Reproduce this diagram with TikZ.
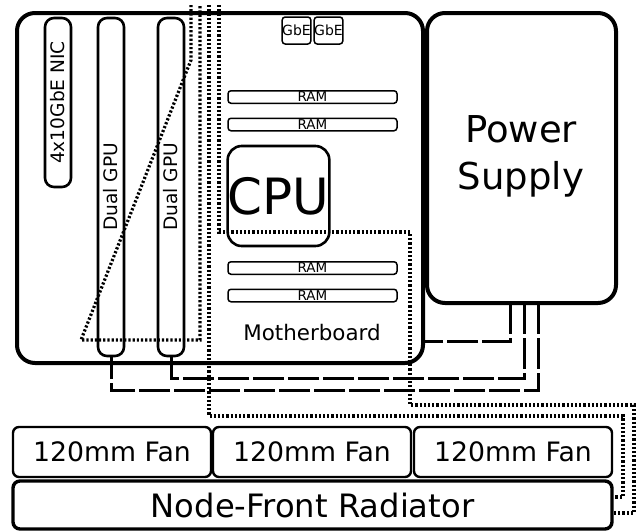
\documentclass[tikz,border=0pt]{standalone}
\usepackage{fontspec}
\setmainfont{DejaVu Sans}
\usetikzlibrary{shapes}

\tikzset{
  bigbox/.style={draw, line width=4pt, rounded corners=18pt, inner sep=0pt},
  cardbox/.style={draw, line width=2.6pt, rounded corners=9pt, inner sep=0pt},
  smallbox/.style={draw, line width=1.5pt, rounded corners=3pt, inner sep=0pt},
  fanbox/.style={draw, line width=2.4pt, rounded corners=6pt, inner sep=0pt, font=\fontsize{26.7}{27}\selectfont},
  powerline/.style={line width=3pt, dash pattern=on 31pt off 4pt},
  coolantline/.style={line width=3.2pt, dash pattern=on 2.2pt off 2pt}
}

\begin{document}
\begin{tikzpicture}[x=1pt, y=-1pt]
\useasboundingbox (0,0) rectangle (636,531);
% boards
\node [bigbox, minimum width=406pt, minimum height=350pt] (board) at (220,188) {};
\node [bigbox, minimum width=189pt, minimum height=290pt] (psu) at (521.5,158) {};
\node [font=\fontsize{37}{47}\selectfont, align=center] (psulabel) at (521,156) {Power\\Supply};
\node [font=\fontsize{21.4}{21.4}\selectfont] (boardlabel) at (312,333) {Motherboard};
% cards
\node [cardbox, minimum width=26pt, minimum height=169pt] (nic) at (58,102.5) {};
\node [rotate=90, font=\fontsize{18.6}{18.6}\selectfont] (niclabel) at (58,102.5) {4x10GbE NIC};
\node [cardbox, minimum width=26pt, minimum height=338pt] (gpua) at (111,187) {};
\node [rotate=90, font=\fontsize{18.6}{18.6}\selectfont] (gpualabel) at (111,187) {Dual GPU};
\node [cardbox, minimum width=26pt, minimum height=338pt] (gpub) at (171,187) {};
\node [rotate=90, font=\fontsize{18.6}{18.6}\selectfont] (gpublabel) at (171,187) {Dual GPU};
% ports and memory
\node [smallbox, minimum width=27pt, minimum height=27pt, font=\fontsize{14}{14}\selectfont] (gbea) at (296.5,30.5) {GbE};
\node [smallbox, minimum width=27pt, minimum height=27pt, font=\fontsize{14}{14}\selectfont] (gbeb) at (328.5,30.5) {GbE};
\node [smallbox, minimum width=169pt, minimum height=12.5pt, font=\fontsize{13.5}{13.5}\selectfont] (rama) at (312.5,97) {RAM};
\node [smallbox, minimum width=169pt, minimum height=12.5pt, font=\fontsize{13.5}{13.5}\selectfont] (ramb) at (312.5,124.5) {RAM};
\node [smallbox, minimum width=169pt, minimum height=12.5pt, font=\fontsize{13.5}{13.5}\selectfont] (ramc) at (312.5,268) {RAM};
\node [smallbox, minimum width=169pt, minimum height=12.5pt, font=\fontsize{13.5}{13.5}\selectfont] (ramd) at (312.5,295.5) {RAM};
\node [draw, line width=2.6pt, rounded corners=14pt, inner sep=0pt, minimum width=100pt, minimum height=100pt, font=\fontsize{50}{50}\selectfont] (cpu) at (278.5,196) {CPU};
% fans and radiator
\node [fanbox, minimum width=198pt, minimum height=50pt] (fana) at (112,452) {120mm Fan};
\node [fanbox, minimum width=198pt, minimum height=50pt] (fanb) at (312,452) {120mm Fan};
\node [fanbox, minimum width=198pt, minimum height=50pt] (fanc) at (513,452) {120mm Fan};
\node [draw, line width=3.4pt, rounded corners=7pt, inner sep=0pt, minimum width=599pt, minimum height=48pt, font=\fontsize{32.2}{32.2}\selectfont] (radiator) at (312.5,505) {Node-Front Radiator};
% power cables
\coordinate (psua) at (510,303);
\coordinate (psub) at (524,303);
\coordinate (psuc) at (538,303);
\draw [powerline] (psua) -- (510,341) -- (board.east |- 0,341);
\draw [powerline] (psub) -- (524,378) -- (171,378) -- (gpub.south);
\draw [powerline] (psuc) -- (538,390) -- (111,390) -- (gpua.south);
% coolant loop
\coordinate (topa) at (191,5);
\coordinate (topb) at (200,5);
\coordinate (topc) at (209,5);
\coordinate (topd) at (219,5);
\coordinate (radin) at (612,497);
\coordinate (radout) at (613,513);
\draw [coolantline] (topa) -- (191,60) -- (81,340) -- (200,340) -- (topb);
\draw [coolantline] (topc) -- (209,416) -- (623,416) -- (623,497) -- (radin);
\draw [coolantline] (topd) -- (219,232) -- (410,232) -- (410,405) -- (634,405) -- (634,513) -- (radout);
\end{tikzpicture}
\end{document}
